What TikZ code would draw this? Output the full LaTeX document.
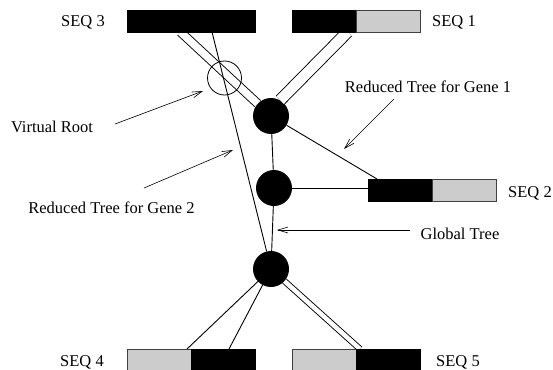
\documentclass[tikz,border=0pt]{standalone}
\usepackage{fontspec}
\setmainfont{Liberation Serif}
\usetikzlibrary{arrows.meta}
\definecolor{bargray}{RGB}{204,204,204}
\begin{document}
\begin{tikzpicture}[x=1pt,y=-1pt,
  lbl/.style={anchor=base, inner sep=0pt, font=\fontsize{16.5}{20}\selectfont},
  darkseg/.style={fill=black, draw=black, line width=0.6pt, inner sep=0pt,
                  minimum height=22pt, minimum width=64pt},
  lightseg/.style={fill=bargray, draw=black!75, line width=0.6pt, inner sep=0pt,
                   minimum height=22pt, minimum width=64pt},
  hub/.style={circle, fill=black, inner sep=0pt, minimum size=36pt},
  vroot/.style={circle, draw=black, line width=0.8pt, inner sep=0pt, minimum size=34pt},
  branch/.style={line width=0.9pt},
  twin/.style={line width=0.9pt, double=white},
  pointer/.style={line width=0.6pt, -{Straight Barb[length=10pt,width=6pt]}}
]
\useasboundingbox (0,0) rectangle (553,369);

% internal nodes of the global tree
\node[hub] (N1) at (271,116) {};
\node[hub] (N2) at (274,188) {};
\node[hub] (N3) at (271,269) {};

% attachment points on the sequence bars
\coordinate (s3d) at (180.5,32);
\coordinate (s3t) at (212,32);
\coordinate (s1d) at (347.5,32);
\coordinate (s2c) at (377,179);
\coordinate (s2w) at (368,188);
\coordinate (s4a) at (187,349);
\coordinate (s4b) at (229,349);
\coordinate (s5d) at (360,349);

% branches shared by both reduced trees
\draw[twin, double distance=7.5pt] (s3d) -- (N1);
\draw[twin, double distance=10.5pt] (s1d) -- (N1.60);
\draw[twin, double distance=4.5pt] (N3) -- (s5d);

% global tree and single branches
\draw[branch] (N1) -- (N2) -- (N3);
\draw[branch] (N2) -- (s2w);
\draw[branch] (N1) -- (s2c);
\draw[branch] (N3) -- (s4a);
\draw[branch] (N3) -- (s4b);
\draw[branch] (s3t) -- (N3);

% virtual root
\node[vroot] (VR) at (224.5,78) {};

% sequence bars
\node[darkseg, minimum width=128pt] (seq3) at (191,21) {};
\node[darkseg] (seq1a) at (324,21) {};
\node[lightseg] (seq1b) at (388,21) {};
\node[darkseg] (seq2a) at (400,190) {};
\node[lightseg] (seq2b) at (464,190) {};
\node[lightseg] (seq4a) at (159,360) {};
\node[darkseg] (seq4b) at (223,360) {};
\node[lightseg] (seq5a) at (324,360) {};
\node[darkseg] (seq5b) at (388,360) {};

% labels
\node[lbl] (l3) at (83,27) {SEQ 3};
\node[lbl] (l1) at (454,27) {SEQ 1};
\node[lbl] (l2) at (530,197) {SEQ 2};
\node[lbl] (l4) at (82,366) {SEQ 4};
\node[lbl] (l5) at (458,366) {SEQ 5};
\node[lbl] (g1) at (428,92) {Reduced Tree for Gene 1};
\node[lbl] (vr) at (52,132) {Virtual Root};
\node[lbl] (g2) at (111.5,213) {Reduced Tree for Gene 2};
\node[lbl] (gt) at (460,239) {Global Tree};

% pointers from the labels
\coordinate (vrA) at (115,124);  \coordinate (vrB) at (203,91);
\coordinate (g2A) at (144,188);  \coordinate (g2B) at (233,150);
\coordinate (g1A) at (394,99);   \coordinate (g1B) at (344,149);
\coordinate (gtA) at (410,230);  \coordinate (gtB) at (277,230);
\draw[pointer] (vrA) -- (vrB);
\draw[pointer] (g2A) -- (g2B);
\draw[pointer] (g1A) -- (g1B);
\draw[pointer] (gtA) -- (gtB);
\end{tikzpicture}
\end{document}
